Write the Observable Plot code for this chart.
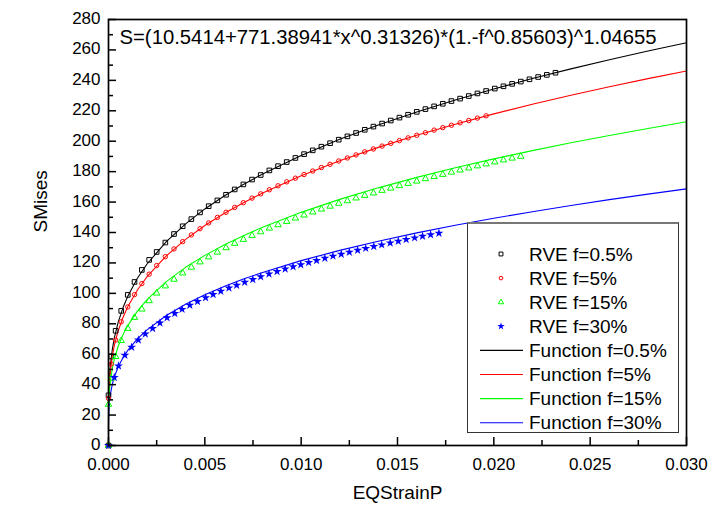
<!DOCTYPE html>
<html>
<head>
<meta charset="utf-8">
<script src="https://cdn.jsdelivr.net/npm/d3@7"></script>
<script src="https://cdn.jsdelivr.net/npm/@observablehq/plot@0.6"></script>
<style>
  body { margin: 0; background: #fff; }
  #wrap { position: relative; width: 715px; height: 505px; font-family: "Liberation Sans", Arial, sans-serif; }
  #legend { position: absolute; left: 467px; top: 222px; width: 212px; height: 211px; box-sizing: border-box;
            border: 1px solid #333; border-top: 2px solid #777; background: #fff; }
</style>
</head>
<body>
<div id="wrap"></div>
<script>
// ---- data ----
const equationText = "S=(10.5414+771.38941*x^0.31326)*(1.-f^0.85603)^1.04655";
const xTitle = "EQStrainP";
const yTitle = "SMises";

const xTicks = [0, 0.005, 0.010, 0.015, 0.020, 0.025, 0.030];
const xMinorTicks = [0.0025, 0.0075, 0.0125, 0.0175, 0.0225, 0.0275];
const yTicks = [0, 20, 40, 60, 80, 100, 120, 140, 160, 180, 200, 220, 240, 260, 280];
const yMinorTicks = [10, 30, 50, 70, 90, 110, 130, 150, 170, 190, 210, 230, 250, 270];

// fitted function curves
const fitStrain = [0, 0.000001, 0.000005, 0.00002, 0.00005, 0.0001, 0.0002, 0.0003, 0.0005, 0.00075, 0.001, 0.0015, 0.002, 0.003, 0.004, 0.005, 0.006, 0.007, 0.008, 0.010, 0.012, 0.014, 0.016, 0.018, 0.020, 0.022, 0.024, 0.026, 0.028, 0.030];
const fitF05 = [10.42, 20.49, 27.08, 36.15, 44.70, 53.02, 63.34, 70.51, 80.94, 90.49, 98.04, 109.90, 119.29, 134.03, 145.69, 155.49, 164.01, 171.61, 178.49, 190.66, 201.26, 210.70, 219.25, 227.10, 234.37, 241.16, 247.53, 253.55, 259.27, 264.71];
const fitF5  = [9.69, 19.05, 25.19, 33.62, 41.58, 49.31, 58.91, 65.58, 75.28, 84.16, 91.18, 102.21, 110.94, 124.65, 135.49, 144.61, 152.53, 159.61, 166.01, 177.32, 187.18, 195.96, 203.91, 211.21, 217.97, 224.29, 230.21, 235.81, 241.13, 246.19];
const fitF15 = [8.38, 16.47, 21.77, 29.06, 35.93, 42.61, 50.91, 56.67, 65.06, 72.73, 78.80, 88.33, 95.88, 107.73, 117.10, 124.97, 131.82, 137.93, 143.47, 153.24, 161.76, 169.35, 176.22, 182.53, 188.38, 193.83, 198.95, 203.79, 208.39, 212.76];
const fitF30 = [6.64, 13.06, 17.26, 23.04, 28.49, 33.79, 40.37, 44.94, 51.58, 57.67, 62.48, 70.04, 76.02, 85.42, 92.85, 99.09, 104.52, 109.37, 113.75, 121.50, 128.26, 134.28, 139.73, 144.73, 149.36, 153.69, 157.75, 161.59, 165.23, 168.69];

// RVE simulation points (f = 0.5%, 5%, 15% share the strain increments)
const rveStrain = [0, 0, 0.00014, 0.00037, 0.00066, 0.001, 0.00135, 0.00173, 0.00211, 0.0025, 0.00295, 0.0034, 0.00385, 0.0043, 0.00475, 0.0052, 0.00565, 0.0061, 0.00655, 0.007, 0.00745, 0.0079, 0.00835, 0.0088, 0.00925, 0.0097, 0.01015, 0.0106, 0.01105, 0.0115, 0.01195, 0.0124, 0.01285, 0.0133, 0.01375, 0.0142, 0.01465, 0.0151, 0.01555, 0.016, 0.01645, 0.0169, 0.01735, 0.0178, 0.01825, 0.0187, 0.01915, 0.0196, 0.02005, 0.0205, 0.02095, 0.0214, 0.02185, 0.0223, 0.02275, 0.0232];
const rveF05 = [0, 33, 58.5, 75.4, 88.5, 99.0, 107.5, 115.4, 122.0, 127.2, 133.4, 139.0, 144.1, 148.8, 153.2, 157.3, 161.1, 164.8, 168.3, 171.6, 174.8, 177.8, 180.8, 183.6, 186.3, 189.0, 191.5, 194.0, 196.4, 198.7, 201.0, 203.2, 205.4, 207.5, 209.6, 211.6, 213.6, 215.5, 217.4, 219.3, 221.1, 222.9, 224.6, 226.4, 228.0, 229.7, 231.4, 233.0, 234.6, 236.1, 237.7, 239.2, 240.7, 242.2, 243.6, 245.0];
const rveF5  = [0, 31, 53.6, 69.3, 81.3, 91.1, 99.2, 106.4, 112.6, 118.3, 124.1, 129.2, 134.0, 138.4, 142.5, 146.3, 149.9, 153.3, 156.5, 159.6, 162.6, 165.4, 168.1, 170.7, 173.3, 175.7, 178.1, 180.4, 182.7, 184.8, 187.0, 189.0, 191.0, 193.0, 194.9, 196.8, 198.6, 200.4, 202.2, 203.9, 205.6, 207.3, 208.9, 210.5, 212.1, 213.6, 215.2, 216.7];
const rveF15 = [0, 27, 44.1, 58.4, 68.9, 76.9, 84.1, 89.6, 95.1, 100.1, 104.8, 109.2, 113.3, 117.1, 120.6, 123.9, 127.0, 129.9, 132.8, 135.4, 138.0, 140.4, 142.8, 145.0, 147.2, 149.4, 151.4, 153.4, 155.3, 157.2, 159.1, 160.8, 162.6, 164.3, 165.9, 167.6, 169.1, 170.7, 172.2, 173.7, 175.3, 176.7, 178.1, 179.6, 181.0, 182.3, 183.7, 185.0, 186.3, 187.6, 188.8, 190.0];
const rveStrain30 = [0, 0.0003, 0.00052, 0.00085, 0.0012, 0.00155, 0.00191, 0.00229, 0.00267, 0.00304, 0.00344, 0.00382, 0.00422, 0.00462, 0.00504, 0.00543, 0.00583, 0.00625, 0.00665, 0.00707, 0.00749, 0.0079, 0.00833, 0.00875, 0.00917, 0.00958, 0.00998, 0.01039, 0.0108, 0.01123, 0.01165, 0.01208, 0.0125, 0.01293, 0.01335, 0.01377, 0.01418, 0.01462, 0.01504, 0.01545, 0.01589, 0.0163, 0.01672, 0.01715];
const rveF30 = [0, 44.8, 52.3, 59.4, 64.6, 69.4, 73.3, 77.0, 80.6, 84.0, 86.8, 89.5, 92.2, 94.7, 97.1, 99.3, 101.4, 103.5, 105.4, 107.3, 109.2, 111.0, 112.7, 114.4, 116.0, 117.5, 118.9, 120.3, 121.7, 123.1, 124.5, 125.8, 127.1, 128.4, 129.6, 130.8, 131.9, 133.1, 134.3, 135.4, 136.5, 137.6, 138.6, 139.6];

const seriesNames = ["f=0.5%", "f=5%", "f=15%", "f=30%"];
const seriesColors = ["#000000", "#ff0000", "#00ff00", "#0000ff"];

// ---- build tables ----
const toRows = (xs, ys) => ys.map((y, i) => ({x: xs[i], y}));
const fitRows = [fitF05, fitF5, fitF15, fitF30].map(ys => toRows(fitStrain, ys));
const rveRows = [toRows(rveStrain, rveF05), toRows(rveStrain, rveF5), toRows(rveStrain, rveF15), toRows(rveStrain30, rveF30)];

const symbols = [
  {symbol: "square",   r: 2.6, fill: "none", stroke: seriesColors[0], strokeWidth: 1},
  {symbol: "circle",   r: 2.2, fill: "none", stroke: seriesColors[1], strokeWidth: 1},
  {symbol: "triangle", r: 2.4, fill: "none", stroke: seriesColors[2], strokeWidth: 1},
  {symbol: "star",     r: 2.8, fill: seriesColors[3], stroke: "none", strokeWidth: 0}
];

const FONT = '"Liberation Sans", Arial, sans-serif';
const innerW = 715 - 108 - 29;
const innerH = 505 - 19 - 60;

const chart = Plot.plot({
  width: 715,
  height: 505,
  marginLeft: 108,
  marginRight: 29,
  marginTop: 19,
  marginBottom: 60,
  x: {domain: [0, 0.03]},
  y: {domain: [0, 280]},
  style: {fontFamily: FONT, fontSize: "17px", color: "#000", background: "#fff", overflow: "visible"},
  marks: [
    ...fitRows.map((rows, i) => Plot.line(rows, {x: "x", y: "y", stroke: seriesColors[i], strokeWidth: 1.1})),
    ...rveRows.map((rows, i) => Plot.dot(rows, {x: "x", y: "y", ...symbols[i]})),
    Plot.tickX(xTicks, {x: d => d, insetTop: innerH - 8, stroke: "#000", strokeWidth: 1.5}),
    Plot.tickX(xMinorTicks, {x: d => d, insetTop: innerH - 5, stroke: "#000", strokeWidth: 1.5}),
    Plot.tickY(yTicks, {y: d => d, insetRight: innerW - 8, stroke: "#000", strokeWidth: 1.5}),
    Plot.tickY(yMinorTicks, {y: d => d, insetRight: innerW - 5, stroke: "#000", strokeWidth: 1.5}),
    Plot.axisX({ticks: xTicks, tickSize: 0, tickPadding: 12, tickFormat: d3.format(".3f"), label: null, fontSize: 17}),
    Plot.axisY({ticks: yTicks, tickSize: 0, tickPadding: 8, dy: -1, tickFormat: d3.format("d"), label: null, fontSize: 17}),
    Plot.frame({stroke: "#000", strokeWidth: 1.7}),
    Plot.text([equationText], {text: d => d, frameAnchor: "top-left", dx: 11, dy: 10, fontSize: 20.3, textAnchor: "start", lineAnchor: "top"}),
    Plot.text([xTitle], {text: d => d, frameAnchor: "bottom", dy: 47, fontSize: 19, lineAnchor: "middle"}),
    Plot.text([yTitle], {text: d => d, frameAnchor: "left", dx: -68, rotate: -90, fontSize: 19, lineAnchor: "middle"})
  ]
});

const wrap = document.getElementById("wrap");
wrap.appendChild(chart);

// ---- legend (inside the plot area, as in the reference) ----
const legend = document.createElement("div");
legend.id = "legend";
wrap.appendChild(legend);
const lsvg = d3.select(legend).append("svg").attr("width", 210).attr("height", 208)
  .style("position", "absolute").style("left", "0px").style("top", "0px")
  .style("font-family", FONT).style("font-size", "19px");
const symMap = {square: d3.symbolSquare, circle: d3.symbolCircle, triangle: d3.symbolTriangle, star: d3.symbolStar};
const legendRows = [
  ...seriesNames.map((n, i) => ({label: "RVE " + n, type: "dot", i})),
  ...seriesNames.map((n, i) => ({label: "Function " + n, type: "line", i}))
];
legendRows.forEach((row, j) => {
  const cy = 30 + j * 24.1;
  const g = lsvg.append("g");
  if (row.type === "dot") {
    const s = symbols[row.i];
    g.append("path")
      .attr("d", d3.symbol(symMap[s.symbol], Math.PI * s.r * s.r * 0.7)())
      .attr("transform", `translate(33,${cy})`)
      .attr("fill", s.fill).attr("stroke", s.stroke).attr("stroke-width", s.strokeWidth);
  } else {
    g.append("line").attr("x1", 12).attr("x2", 55).attr("y1", cy).attr("y2", cy)
      .attr("stroke", seriesColors[row.i]).attr("stroke-width", 1.1);
  }
  g.append("text").attr("x", 61).attr("y", cy).attr("dy", "0.35em").text(row.label);
});
</script>
</body>
</html>
